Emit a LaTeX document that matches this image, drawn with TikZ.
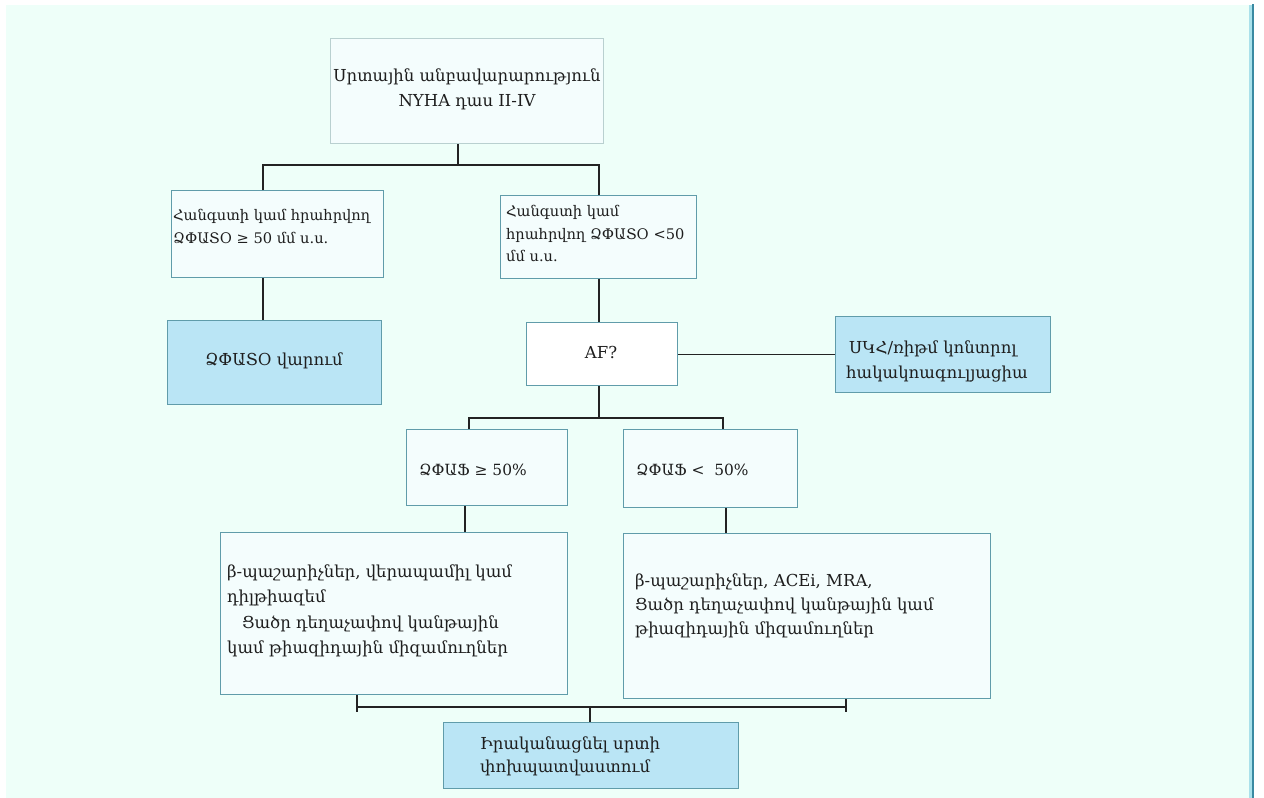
\documentclass[tikz,border=0pt]{standalone}
\usepackage{fontspec}
\setmainfont{DejaVu Serif}
\definecolor{pagebg}{RGB}{238,255,249}
\definecolor{boxline}{RGB}{96,156,170}
\definecolor{paleline}{RGB}{185,208,208}
\definecolor{bluefill}{RGB}{186,229,245}
\definecolor{palefill}{RGB}{244,253,253}
\definecolor{edgeblue}{RGB}{58,138,162}
\definecolor{edgelight}{RGB}{170,225,235}
\definecolor{wirecol}{RGB}{35,35,35}
\definecolor{inkcol}{RGB}{30,30,30}

\begin{document}
\begin{tikzpicture}[x=1pt,y=-1pt,
  panel/.style={draw=boxline, line width=1.3pt, fill=palefill, rectangle,
    inner sep=0pt, anchor=north west},
  bluepanel/.style={panel, fill=bluefill},
  txt/.style={align=left, inner sep=0pt, text=inkcol,
    font=\fontsize{16.5}{24.5}\selectfont},
  smalltxt/.style={txt, font=\fontsize{14.6}{22.5}\selectfont},
  midtxt/.style={txt, font=\fontsize{15.4}{23}\selectfont},
  wire/.style={draw=wirecol, line width=1.2pt}]

% page and frame
\useasboundingbox (0,0) rectangle (1264,798);
\fill[white] (0,0) rectangle (1264,798);
\fill[pagebg] (6,5) rectangle (1253,798);
\fill[edgelight] (1249,5) rectangle (1252,798);
\draw[edgeblue, line width=2pt] (1253,4) -- (1253,798);

% boxes
\node[panel, draw=paleline, fill=palefill, minimum width=273pt, minimum height=105pt] (top) at (330,38) {};
\node[panel, minimum width=212pt, minimum height=87pt] (b2) at (171,190) {};
\node[panel, minimum width=196pt, minimum height=83pt] (b3) at (500,195) {};
\node[bluepanel, minimum width=214pt, minimum height=84pt] (b4) at (167,320) {};
\node[panel, fill=white, minimum width=151pt, minimum height=63pt] (af) at (526,322) {};
\node[bluepanel, minimum width=215pt, minimum height=76pt] (sk) at (835,316) {};
\node[panel, minimum width=161pt, minimum height=76pt] (b5) at (406,429) {};
\node[panel, minimum width=174pt, minimum height=78pt] (b6) at (623,429) {};
\node[panel, minimum width=347pt, minimum height=162pt] (b7) at (220,532) {};
\node[panel, minimum width=367pt, minimum height=165pt] (b8) at (623,533) {};
\node[bluepanel, minimum width=295pt, minimum height=66pt] (b9) at (443,722) {};

% texts
\node[txt, align=center] (ttop) at (467,89.5) {Սրտային անբավարարություն\\NYHA դաս II-IV};
\node[smalltxt, anchor=west] (tb2) at (173,226.5) {Հանգստի կամ հրահրվող\\ՁՓԱՏՕ ≥ 50 մմ ս.ս.};
\node[smalltxt, anchor=west] (tb3) at (506,233.5) {Հանգստի կամ\\հրահրվող ՁՓԱՏՕ <50\\մմ ս.ս.};
\node[txt] (tb4) at (274,361) {ՁՓԱՏՕ վարում};
\node[txt] (taf) at (601,352) {AF?};
\node[txt, anchor=west] (tsk) at (846,361.5) {\hspace{3pt}ՍԿՀ/ռիթմ կոնտրոլ\\հակակոագուլյացիա};
\node[midtxt, anchor=west] (tb5) at (419,470) {ՁՓԱՖ ≥ 50\%};
\node[midtxt, anchor=west] (tb6) at (636,470) {ՁՓԱՖ <\ \ 50\%};
\node[txt, anchor=west, font=\fontsize{16.5}{25.5}\selectfont] (tb7) at (227,611) {β-պաշարիչներ, վերապամիլ կամ\\դիլթիազեմ\\\hspace{15pt}Ցածր դեղաչափով կանթային\\կամ թիազիդային միզամուղներ};
\node[txt, anchor=west, font=\fontsize{16.5}{24}\selectfont] (tb8) at (635,606) {β-պաշարիչներ, ACEi, MRA,\\Ցածր դեղաչափով կանթային կամ\\թիազիդային միզամուղներ};
\node[txt, anchor=west, font=\fontsize{16.5}{23}\selectfont] (tb9) at (480,756.5) {Իրականացնել սրտի\\փոխպատվաստում};

% junction points
\coordinate (jt) at (458,165);
\coordinate (jl) at (263,165);
\coordinate (jr) at (599,165);
\coordinate (ja) at (599,418);
\coordinate (j5) at (469,418);
\coordinate (j6) at (723,418);
\coordinate (x5) at (465,0);
\coordinate (x6) at (726,0);
\coordinate (jb) at (590,707);
\coordinate (k7) at (357,707);
\coordinate (k8) at (846,707);

% connectors
\draw[wire] (top.south -| jt) -- (jt);
\draw[wire] (b2.north -| jl) -- (jl) -- (jr) -- (b3.north -| jr);
\draw[wire] (b2.south -| jl) -- (b4.north -| jl);
\draw[wire] (b3.south -| jr) -- (af.north -| jr);
\draw[wire] (af.east) -- (af.east -| sk.west);
\draw[wire] (af.south -| ja) -- (ja);
\draw[wire] (b5.north -| j5) -- (j5) -- (j6) -- (b6.north -| j6);
\draw[wire] (b5.south -| x5) -- (b7.north -| x5);
\draw[wire] (b6.south -| x6) -- (b8.north -| x6);
\draw[wire] (b7.south -| k7) -- ([yshift=-5pt]k7) ;
\draw[wire] (b8.south -| k8) -- ([yshift=-5pt]k8);
\draw[wire] (k7) -- (k8);
\draw[wire] (jb) -- (b9.north -| jb);
\end{tikzpicture}
\end{document}
